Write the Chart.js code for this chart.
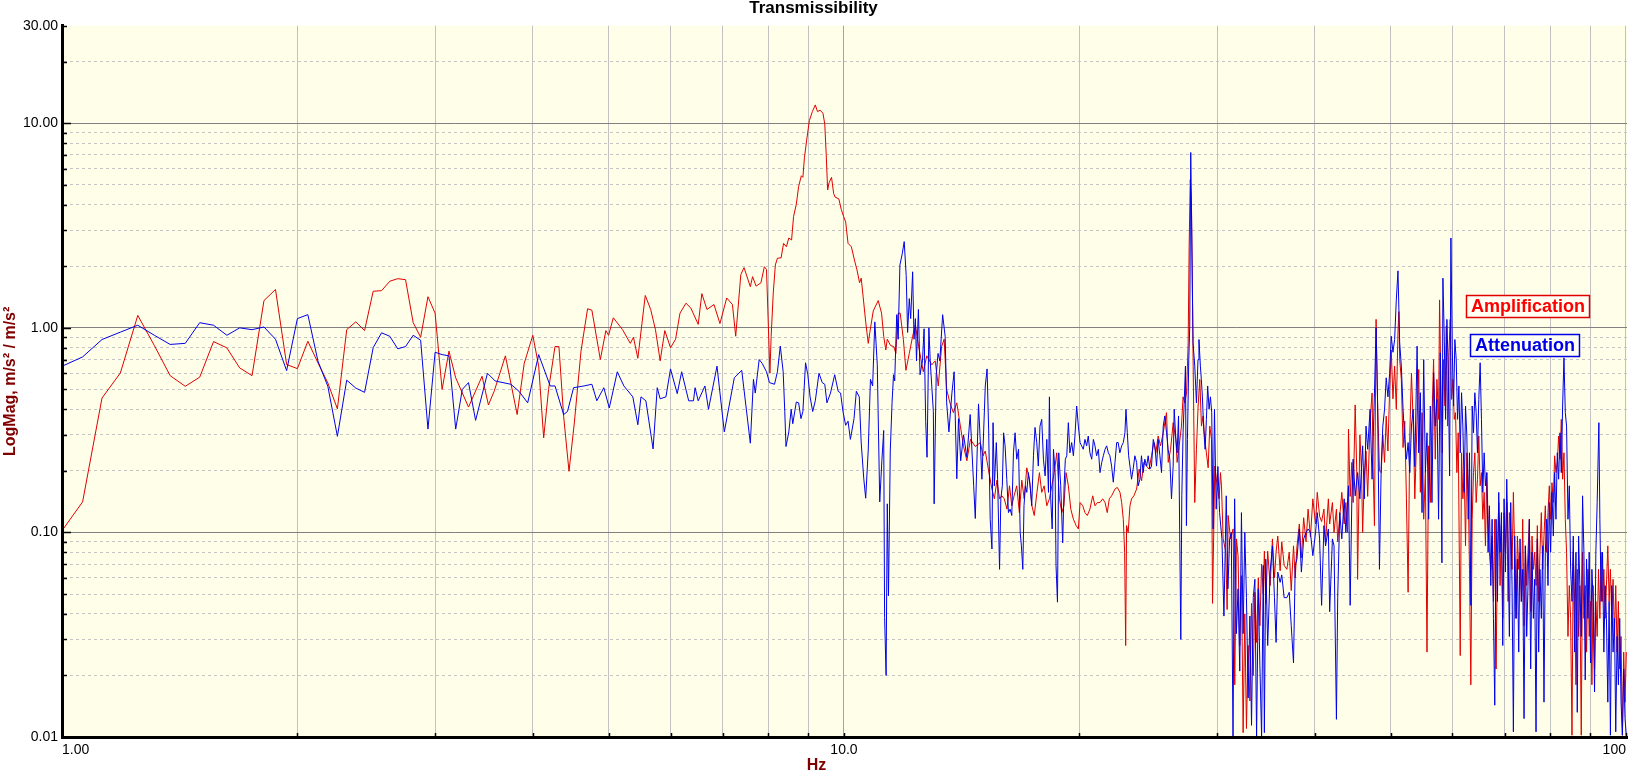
<!DOCTYPE html>
<html>
<head>
 <title>Transmissibility</title>
 <script src="https://cdn.jsdelivr.net/npm/chart.js"></script>
 <style>
  html, body { margin: 0; padding: 0; background: #fff; }
  #chart-container { width: 1633px; height: 776px; position: relative; }
 </style>
</head>
<body>
 <div id="chart-container">
  <canvas id="tChart"></canvas>
 </div>

 <script>
  // FFT bins below 3.2 Hz (0.0625 Hz resolution), shared by both curves
  const lowHz = [1, 1.0625, 1.125, 1.1875, 1.25, 1.3125, 1.375, 1.4375, 1.5, 1.5625,
   1.625, 1.6875, 1.75, 1.8125, 1.875, 1.9375, 2, 2.0625, 2.125, 2.1875,
   2.25, 2.3125, 2.375, 2.4375, 2.5, 2.5625, 2.625, 2.6875, 2.75, 2.8125,
   2.875, 2.9375, 3, 3.0625, 3.125, 3.1875];
  const ampLowMag = [0.102, 0.141, 0.454, 0.602, 1.15, 0.82, 0.584, 0.518, 0.574, 0.857,
   0.798, 0.637, 0.584, 1.36, 1.54, 0.662, 0.632, 0.86, 0.674, 0.538,
   0.402, 0.98, 1.07, 0.97, 1.51, 1.52, 1.69, 1.74, 1.72, 1.06,
   0.90, 1.42, 1.18, 0.50, 0.77, 0.57];
  const attLowMag = [0.649, 0.721, 0.877, 0.953, 1.03, 0.92, 0.83, 0.84, 1.06, 1.03,
   0.92, 1.0, 0.98, 1.01, 0.88, 0.618, 1.11, 1.16, 0.687, 0.518,
   0.295, 0.555, 0.508, 0.484, 0.80, 0.946, 0.91, 0.79, 0.81, 0.92,
   0.87, 0.32, 0.76, 0.74, 0.73, 0.32];

  // Amplification (red) above 3.2 Hz
  const ampHz = [
   3.31, 3.445, 3.51, 3.57, 3.69, 3.82, 3.90, 4.0, 4.07, 4.13, 4.19, 4.27, 4.32, 4.38, 4.45, 4.52, 4.61, 4.70, 4.76, 4.88,
   4.96, 5.0, 5.07, 5.21, 5.33, 5.38, 5.45, 5.57, 5.66, 5.74, 5.82, 5.90, 6.0, 6.09, 6.17, 6.28, 6.37, 6.51, 6.58, 6.68,
   6.82, 6.94, 7.08, 7.20, 7.27, 7.38, 7.45, 7.59, 7.64, 7.72, 7.83, 7.91, 7.96, 8.04, 8.07, 8.12, 8.17, 8.22, 8.31, 8.37,
   8.44, 8.50, 8.57, 8.62, 8.69, 8.75, 8.82, 8.86, 8.90, 8.96, 9.03, 9.11, 9.19, 9.25, 9.32, 9.40, 9.45, 9.49, 9.53, 9.57,
   9.64, 9.70, 9.74, 9.85, 9.92, 9.99, 10.05, 10.12, 10.22, 10.32, 10.39, 10.47, 10.52, 10.58, 10.66, 10.74, 10.79, 10.90, 11.06, 11.17,
   11.24, 11.31, 11.36, 11.47, 11.58, 11.65, 11.73, 11.80, 11.91, 12.0, 12.12, 12.24, 12.34, 12.46, 12.63, 12.76, 12.95, 13.08, 13.20, 13.33,
   13.43, 13.53, 13.66, 13.80, 13.94, 14.08, 14.22, 14.36, 14.51, 14.72, 14.94, 15.06, 15.16, 15.31, 15.46, 15.57, 15.69, 15.81, 15.92, 16.03,
   16.16, 16.28, 16.39, 16.50, 16.63, 16.76, 16.88, 17.00, 17.13, 17.27, 17.39, 17.51, 17.65, 17.78, 17.90, 18.03, 18.17, 18.31, 18.44, 18.57,
   18.71, 18.86, 18.99, 19.11, 19.23, 19.36, 19.50, 19.65, 19.81, 19.94, 20.04, 20.20, 20.33, 20.47, 20.63, 20.80, 20.94, 21.09, 21.25, 21.42,
   21.57, 21.71, 21.84, 21.99, 22.21, 22.36, 22.54, 22.65, 22.76, 22.85, 22.92, 22.98, 23.09, 23.21, 23.32, 23.48, 23.67, 23.85, 24.02, 24.18,
   24.37, 24.56, 24.73, 24.90, 25.05, 25.22, 25.40, 25.60, 25.72, 25.85, 25.98, 26.16, 26.36, 26.57, 26.67, 26.83, 27.01, 27.14, 27.28, 27.42,
   27.55, 27.63, 27.72, 27.82, 27.96, 28.09, 28.23, 28.37, 28.51, 28.65, 28.79, 28.93, 29.07, 29.22, 29.36, 29.51, 29.60, 29.80, 30.0, 30.18,
   30.30, 30.39, 30.54, 30.78, 30.90, 30.99, 31.21, 31.45, 31.60, 31.76, 31.91, 32.07, 32.23, 32.39, 32.55, 32.71, 32.87, 33.04, 33.20, 33.37,
   33.53, 33.70, 33.87, 34.03, 34.20, 34.37, 34.48, 34.62, 34.82, 35.07, 35.31, 35.52, 35.69, 35.87, 36.12, 36.29, 36.55, 36.84, 37.10, 37.32,
   37.57, 37.76, 37.95, 38.22, 38.45, 38.71, 38.98, 39.22, 39.49, 39.77, 40.09, 40.29, 40.57, 40.81, 41.09, 41.29, 41.63, 41.79, 42.13, 42.33,
   42.63, 42.79, 43.05, 43.31, 43.61, 43.83, 44.05, 44.17, 44.39, 44.61, 44.78, 45.05, 45.26, 45.37, 45.68, 45.90, 46.05, 46.28, 46.51, 46.74,
   47.07, 47.35, 47.50, 47.68, 47.91, 48.11, 48.39, 48.64, 48.87, 49.12, 49.36, 49.61, 49.86, 50.10, 50.35, 50.60, 50.85, 51.10, 51.23, 51.36,
   51.61, 51.87, 52.13, 52.39, 52.65, 52.91, 53.17, 53.44, 53.70, 54.06, 54.32, 54.58, 54.85, 55.12, 55.39, 55.66, 55.93, 56.21, 56.48, 56.75,
   57.03, 57.31, 57.59, 57.76, 57.99, 58.22, 58.45, 58.68, 58.91, 59.14, 59.37, 59.60, 59.84, 60.07, 60.31, 60.54, 60.78, 61.02, 61.38, 61.62,
   61.86, 62.11, 62.35, 62.59, 62.84, 63.08, 63.33, 63.58, 63.83, 64.08, 64.33, 64.58, 64.83, 65.09, 65.34, 65.60, 65.86, 66.11, 66.37, 66.63,
   66.89, 67.16, 67.42, 67.69, 67.95, 68.22, 68.49, 68.75, 69.02, 69.30, 69.57, 69.84, 70.12, 70.39, 70.67, 70.94, 71.22, 71.50, 71.78, 72.06,
   72.35, 72.63, 72.92, 73.20, 73.49, 73.78, 74.07, 74.36, 74.65, 74.94, 75.24, 75.53, 75.83, 76.13, 76.43, 76.73, 77.03, 77.33, 77.62, 77.94,
   78.25, 78.55, 78.86, 79.17, 79.48, 79.79, 80.10, 80.42, 80.74, 81.05, 81.37, 81.69, 82.01, 82.34, 82.66, 82.98, 83.31, 83.64, 83.95, 84.30,
   84.63, 84.96, 85.30, 85.63, 85.97, 86.30, 86.64, 86.98, 87.30, 87.66, 88.00, 88.35, 88.69, 89.04, 89.39, 89.74, 90.09, 90.45, 90.78, 91.16,
   91.51, 91.87, 92.23, 92.60, 92.96, 93.33, 93.69, 94.06, 94.41, 94.79, 95.16, 95.52, 95.90, 96.27, 96.66, 97.03, 97.42, 97.79, 98.17, 98.56,
   98.95, 99.33, 99.72, 100.1];
  const ampMag = [
   0.41, 0.58, 0.42, 0.49, 0.73, 0.377, 0.67, 0.92, 0.65, 0.29, 0.50, 0.81, 0.81, 0.37, 0.199, 0.343, 0.77, 1.24, 1.22, 0.70,
   0.97, 0.92, 1.12, 0.98, 0.84, 0.90, 0.71, 1.44, 1.23, 0.98, 0.69, 0.97, 0.80, 0.88, 1.18, 1.32, 1.25, 1.04, 1.47, 1.23,
   1.30, 1.05, 1.40, 1.30, 0.91, 1.82, 1.97, 1.59, 1.78, 1.60, 1.66, 1.99, 1.93, 0.60, 0.91, 1.48, 2.03, 2.19, 2.20, 2.59,
   2.49, 2.75, 2.69, 3.50, 4.02, 4.92, 5.54, 5.44, 6.78, 8.28, 10.3, 11.4, 12.3, 11.4, 11.6, 11.2, 9.9, 7.05, 4.72, 5.12,
   5.44, 4.54, 4.36, 4.27, 3.79, 3.50, 3.29, 2.59, 2.49, 2.12, 1.92, 1.66, 1.75, 1.42, 1.07, 0.84, 0.95, 1.21, 1.36, 1.18,
   0.91, 0.78, 0.88, 0.82, 0.81, 0.75, 1.18, 1.18, 0.88, 0.62, 0.75, 0.91, 1.03, 0.81, 0.61, 0.73, 0.66, 0.69, 0.52, 0.81,
   0.88, 0.50, 0.43, 0.385, 0.43, 0.335, 0.263, 0.224, 0.285, 0.263, 0.275, 0.237, 0.25, 0.20, 0.163, 0.146, 0.18, 0.146, 0.151, 0.146,
   0.13, 0.169, 0.135, 0.151, 0.169, 0.125, 0.18, 0.146, 0.207, 0.18, 0.135, 0.121, 0.157, 0.196, 0.157, 0.169, 0.135, 0.146, 0.169, 0.196,
   0.245, 0.146, 0.125, 0.135, 0.196, 0.169, 0.13, 0.116, 0.108, 0.104, 0.14, 0.135, 0.125, 0.121, 0.13, 0.151, 0.135, 0.14, 0.14, 0.146,
   0.14, 0.125, 0.146, 0.151, 0.163, 0.166, 0.157, 0.14, 0.116, 0.08, 0.028, 0.108, 0.10, 0.135, 0.146, 0.151, 0.163, 0.204, 0.179, 0.22,
   0.211, 0.204, 0.237, 0.275, 0.245, 0.296, 0.265, 0.307, 0.344, 0.385, 0.22, 0.255, 0.344, 0.285, 0.22, 0.265, 0.331, 0.46, 0.43, 0.48,
   0.845, 2.5, 5.3, 4.0, 0.65, 0.14, 0.255, 0.415, 0.56, 0.331, 0.371, 0.285, 0.245, 0.207, 0.331, 0.285, 0.045, 0.211, 0.169, 0.146,
   0.196, 0.169, 0.093, 0.08, 0.042, 0.121, 0.093, 0.104, 0.018, 0.093, 0.077, 0.028, 0.0615, 0.0105, 0.04, 0.011, 0.028, 0.015, 0.045, 0.02,
   0.051, 0.029, 0.06, 0.035, 0.07, 0.05, 0.081, 0.045, 0.081, 0.055, 0.093, 0.06, 0.08, 0.096, 0.065, 0.09, 0.069, 0.066, 0.08, 0.052,
   0.086, 0.06, 0.085, 0.11, 0.075, 0.118, 0.09, 0.13, 0.095, 0.146, 0.11, 0.157, 0.12, 0.113, 0.13, 0.09, 0.146, 0.11, 0.14, 0.10,
   0.13, 0.09, 0.12, 0.157, 0.11, 0.14, 0.10, 0.32, 0.15, 0.22, 0.14, 0.42, 0.20, 0.059, 0.30, 0.20, 0.10, 0.189, 0.25, 0.15,
   0.35, 0.48, 0.20, 0.108, 1.1, 0.45, 0.20, 0.196, 0.30, 0.22, 0.37, 0.25, 0.50, 0.78, 0.45, 0.65, 0.40, 0.95, 1.2, 0.70,
   0.56, 0.26, 0.35, 0.146, 0.051, 0.30, 0.60, 0.35, 0.146, 0.357, 0.626, 0.157, 0.385, 0.116, 0.196, 0.026, 0.265, 0.14, 0.357, 0.70,
   0.228, 0.56, 0.357, 1.37, 0.52, 0.245, 0.70, 0.415, 1.02, 0.331, 0.755, 1.10, 0.447, 0.56, 0.357, 0.385, 0.196, 0.307, 0.025, 0.245,
   0.146, 0.196, 0.086, 0.245, 0.169, 0.066, 0.018, 0.116, 0.196, 0.245, 0.14, 0.182, 0.296, 0.169, 0.196, 0.116, 0.157, 0.086, 0.196, 0.116,
   0.080, 0.066, 0.096, 0.046, 0.116, 0.0215, 0.080, 0.14, 0.055, 0.108, 0.038, 0.125, 0.080, 0.14, 0.046, 0.125, 0.096, 0.066, 0.157, 0.080,
   0.038, 0.096, 0.066, 0.080, 0.046, 0.116, 0.035, 0.086, 0.055, 0.080, 0.116, 0.041, 0.096, 0.066, 0.080, 0.055, 0.108, 0.046, 0.080, 0.125,
   0.066, 0.096, 0.135, 0.080, 0.125, 0.169, 0.116, 0.175, 0.14, 0.237, 0.196, 0.22, 0.296, 0.228, 0.357, 0.182, 0.245, 0.116, 0.080, 0.031,
   0.055, 0.038, 0.0102, 0.080, 0.046, 0.018, 0.066, 0.031, 0.055, 0.0102, 0.080, 0.038, 0.055, 0.026, 0.066, 0.031, 0.046, 0.018, 0.055, 0.0215,
   0.046, 0.031, 0.066, 0.038, 0.080, 0.046, 0.066, 0.038, 0.055, 0.086, 0.046, 0.066, 0.038, 0.059, 0.031, 0.055, 0.026, 0.046, 0.0215, 0.031,
   0.0102, 0.026, 0.0148, 0.026];

  // Attenuation (blue) above 3.2 Hz
  const attHz = [
   3.25, 3.31, 3.38, 3.50, 3.58, 3.75, 3.84, 3.94, 4.07, 4.21, 4.27, 4.38, 4.43, 4.51, 4.65, 4.76, 4.83, 4.93, 5.01, 5.13,
   5.23, 5.37, 5.45, 5.50, 5.58, 5.70, 5.77, 5.82, 5.92, 6.0, 6.12, 6.20, 6.33, 6.42, 6.45, 6.51, 6.64, 6.71, 6.88, 7.03,
   7.24, 7.40, 7.59, 7.66, 7.70, 7.79, 7.86, 7.96, 8.03, 8.15, 8.22, 8.29, 8.36, 8.40, 8.43, 8.50, 8.56, 8.60, 8.69, 8.75,
   8.81, 8.86, 8.93, 8.99, 9.05, 9.12, 9.19, 9.29, 9.38, 9.45, 9.51, 9.61, 9.73, 9.83, 9.90, 9.97, 10.05, 10.12, 10.19, 10.30,
   10.37, 10.46, 10.52, 10.60, 10.66, 10.74, 10.81, 10.88, 10.95, 11.03, 11.11, 11.18, 11.24, 11.27, 11.32, 11.36, 11.40, 11.46, 11.52, 11.57,
   11.61, 11.68, 11.73, 11.79, 11.87, 11.94, 12.01, 12.06, 12.12, 12.17, 12.24, 12.29, 12.34, 12.38, 12.45, 12.51, 12.60, 12.66, 12.72, 12.77,
   12.84, 12.89, 13.01, 13.04, 13.12, 13.19, 13.26, 13.37, 13.47, 13.53, 13.62, 13.74, 13.83, 13.94, 14.01, 14.10, 14.22, 14.36, 14.50, 14.65,
   14.72, 14.86, 14.94, 15.01, 15.09, 15.16, 15.24, 15.31, 15.38, 15.46, 15.51, 15.57, 15.66, 15.72, 15.81, 15.87, 15.94, 16.0, 16.07, 16.15,
   16.23, 16.31, 16.39, 16.47, 16.55, 16.63, 16.72, 16.80, 16.86, 16.93, 16.99, 17.06, 17.13, 17.21, 17.30, 17.38, 17.47, 17.55, 17.64, 17.72,
   17.81, 17.90, 17.99, 18.08, 18.17, 18.26, 18.31, 18.38, 18.46, 18.53, 18.62, 18.67, 18.75, 18.82, 18.93, 19.04, 19.12, 19.19, 19.27, 19.36,
   19.45, 19.55, 19.65, 19.74, 19.84, 19.94, 20.04, 20.13, 20.23, 20.33, 20.43, 20.53, 20.63, 20.74, 20.84, 20.94, 21.04, 21.15, 21.25, 21.36,
   21.46, 21.57, 21.67, 21.78, 21.88, 21.99, 22.10, 22.21, 22.32, 22.42, 22.53, 22.65, 22.76, 22.87, 22.94, 23.03, 23.12, 23.21, 23.32, 23.43,
   23.55, 23.67, 23.78, 23.90, 24.01, 24.13, 24.25, 24.38, 24.49, 24.61, 24.73, 24.86, 24.98, 25.10, 25.22, 25.35, 25.47, 25.60, 25.72, 25.85,
   25.97, 26.10, 26.23, 26.36, 26.44, 26.57, 26.67, 26.78, 26.88, 26.96, 27.04, 27.14, 27.22, 27.33, 27.41, 27.49, 27.60, 27.68, 27.76, 27.84,
   27.95, 28.09, 28.23, 28.36, 28.44, 28.56, 28.64, 28.73, 28.84, 28.96, 29.07, 29.18, 29.30, 29.42, 29.53, 29.65, 29.77, 29.92, 30.07, 30.22,
   30.43, 30.61, 30.82, 30.97, 31.13, 31.28, 31.44, 31.59, 31.75, 31.91, 32.07, 32.23, 32.39, 32.55, 32.71, 32.87, 33.04, 33.20, 33.37, 33.53,
   33.70, 33.87, 34.03, 34.20, 34.37, 34.48, 34.62, 34.82, 35.07, 35.31, 35.52, 35.69, 35.87, 36.12, 36.29, 36.55, 36.84, 37.10, 37.32, 37.57,
   37.76, 37.95, 38.22, 38.45, 38.71, 38.98, 39.22, 39.49, 39.77, 40.09, 40.29, 40.57, 40.81, 41.09, 41.29, 41.63, 41.79, 42.13, 42.33, 42.63,
   42.79, 43.05, 43.31, 43.61, 43.83, 44.17, 44.39, 44.61, 44.78, 45.05, 45.37, 45.68, 46.05, 46.28, 46.51, 46.74, 47.07, 47.35, 47.68, 47.91,
   48.11, 48.39, 48.64, 48.87, 49.12, 49.36, 49.61, 49.86, 50.10, 50.35, 50.60, 50.85, 51.10, 51.36, 51.61, 51.87, 52.13, 52.39, 52.65, 52.91,
   53.17, 53.44, 53.70, 54.06, 54.32, 54.58, 54.85, 55.12, 55.39, 55.66, 55.93, 56.21, 56.48, 56.75, 57.03, 57.31, 57.59, 57.88, 58.16, 58.33,
   58.56, 58.79, 59.02, 59.25, 59.49, 59.72, 59.95, 60.19, 60.42, 60.66, 60.90, 61.14, 61.38, 61.62, 61.86, 62.11, 62.35, 62.59, 62.84, 63.08,
   63.33, 63.58, 63.83, 64.08, 64.33, 64.58, 64.83, 65.09, 65.34, 65.60, 65.86, 66.11, 66.37, 66.63, 66.89, 67.16, 67.42, 67.69, 67.95, 68.22,
   68.49, 68.75, 69.02, 69.30, 69.57, 69.84, 70.12, 70.39, 70.67, 70.94, 71.22, 71.50, 71.78, 72.06, 72.35, 72.63, 72.92, 73.20, 73.49, 73.78,
   74.07, 74.36, 74.65, 74.94, 75.24, 75.53, 75.83, 76.13, 76.43, 76.73, 77.03, 77.33, 77.62, 77.94, 78.25, 78.55, 78.86, 79.17, 79.48, 79.79,
   80.10, 80.42, 80.74, 81.05, 81.37, 81.69, 82.01, 82.34, 82.66, 82.98, 83.31, 83.64, 83.95, 84.30, 84.63, 84.96, 85.30, 85.63, 85.97, 86.30,
   86.64, 86.98, 87.30, 87.66, 88.00, 88.35, 88.69, 89.04, 89.39, 89.74, 90.09, 90.45, 90.78, 91.16, 91.51, 91.87, 92.33, 92.60, 92.96, 93.33,
   93.69, 94.06, 94.41, 94.79, 95.16, 95.52, 95.90, 96.27, 96.66, 97.03, 97.42, 97.79, 98.17, 98.56, 98.95, 99.33, 99.72, 100.1];
  const attMag = [
   0.50, 0.54, 0.353, 0.60, 0.55, 0.53, 0.49, 0.43, 0.74, 0.52, 0.52, 0.377, 0.39, 0.51, 0.52, 0.53, 0.44, 0.51, 0.406, 0.61,
   0.52, 0.46, 0.336, 0.46, 0.44, 0.256, 0.51, 0.45, 0.46, 0.63, 0.477, 0.61, 0.44, 0.44, 0.51, 0.44, 0.52, 0.40, 0.65, 0.31,
   0.57, 0.62, 0.273, 0.56, 0.48, 0.70, 0.67, 0.61, 0.54, 0.53, 0.61, 0.815, 0.61, 0.39, 0.263, 0.31, 0.40, 0.34, 0.434, 0.43,
   0.36, 0.39, 0.675, 0.59, 0.46, 0.39, 0.44, 0.60, 0.54, 0.53, 0.43, 0.48, 0.59, 0.49, 0.48, 0.39, 0.334, 0.35, 0.285, 0.36,
   0.49, 0.46, 0.274, 0.183, 0.147, 0.253, 0.56, 0.52, 1.07, 0.66, 0.141, 0.224, 0.315, 0.0384, 0.020, 0.138, 0.049, 0.25, 0.43, 0.59,
   0.55, 1.16, 0.88, 2.03, 2.30, 2.64, 1.80, 0.95, 1.39, 1.11, 1.88, 0.88, 1.11, 0.69, 1.23, 0.59, 0.69, 0.99, 0.348, 0.233,
   1.0, 0.69, 0.39, 0.138, 0.59, 0.75, 0.69, 1.16, 0.91, 0.43, 0.31, 0.48, 0.61, 0.183, 0.36, 0.224, 0.30, 0.233, 0.377, 0.169,
   0.117, 0.425, 0.275, 0.182, 0.32, 0.52, 0.63, 0.32, 0.116, 0.083, 0.344, 0.169, 0.275, 0.182, 0.066, 0.146, 0.169, 0.307, 0.265, 0.182,
   0.125, 0.13, 0.121, 0.245, 0.307, 0.228, 0.255, 0.10, 0.086, 0.066, 0.135, 0.169, 0.157, 0.196, 0.169, 0.135, 0.237, 0.326, 0.275, 0.211,
   0.331, 0.357, 0.228, 0.189, 0.285, 0.157, 0.46, 0.146, 0.104, 0.255, 0.196, 0.069, 0.0456, 0.245, 0.169, 0.089, 0.169, 0.228, 0.237, 0.344,
   0.245, 0.275, 0.237, 0.296, 0.415, 0.331, 0.275, 0.265, 0.255, 0.285, 0.265, 0.296, 0.245, 0.228, 0.285, 0.265, 0.237, 0.255, 0.196, 0.22,
   0.237, 0.255, 0.265, 0.245, 0.237, 0.211, 0.176, 0.22, 0.275, 0.275, 0.245, 0.265, 0.275, 0.307, 0.40, 0.307, 0.237, 0.211, 0.182, 0.204,
   0.237, 0.22, 0.169, 0.182, 0.237, 0.196, 0.228, 0.211, 0.237, 0.204, 0.211, 0.285, 0.265, 0.211, 0.285, 0.237, 0.196, 0.331, 0.371, 0.307,
   0.255, 0.228, 0.146, 0.211, 0.40, 0.285, 0.245, 0.371, 0.089, 0.03, 0.151, 0.307, 0.415, 0.65, 0.108, 0.285, 0.70, 1.02, 7.2, 3.0,
   0.845, 0.65, 0.43, 0.70, 0.877, 0.65, 0.56, 0.46, 0.32, 0.255, 0.357, 0.52, 0.40, 0.46, 0.385, 0.104, 0.40, 0.13, 0.21, 0.125,
   0.093, 0.039, 0.151, 0.053, 0.093, 0.10, 0.0101, 0.146, 0.032, 0.053, 0.021, 0.125, 0.032, 0.10, 0.048, 0.0155, 0.039, 0.0114, 0.048, 0.059,
   0.01, 0.053, 0.0223, 0.01, 0.069, 0.0105, 0.074, 0.028, 0.064, 0.086, 0.048, 0.029, 0.064, 0.057, 0.062, 0.048, 0.048, 0.051, 0.035, 0.023,
   0.069, 0.074, 0.104, 0.064, 0.093, 0.10, 0.104, 0.10, 0.077, 0.10, 0.125, 0.093, 0.044, 0.108, 0.086, 0.104, 0.041, 0.093, 0.086, 0.0122,
   0.048, 0.125, 0.093, 0.146, 0.10, 0.169, 0.044, 0.146, 0.228, 0.151, 0.196, 0.146, 0.265, 0.146, 0.331, 0.255, 0.40, 0.182, 0.48, 1.0,
   0.46, 0.066, 0.21, 0.331, 0.40, 0.57, 0.46, 0.60, 0.91, 0.76, 0.877, 1.37, 1.9, 0.845, 0.65, 0.40, 0.285, 0.228, 0.275, 0.196,
   0.331, 0.40, 0.21, 0.814, 0.245, 0.482, 0.125, 0.70, 0.196, 0.307, 0.116, 0.415, 0.14, 0.603, 0.331, 0.447, 0.116, 0.755, 0.071, 1.75,
   0.91, 0.357, 1.10, 0.626, 0.189, 2.75, 0.814, 0.415, 0.877, 0.70, 0.357, 0.52, 0.245, 0.482, 0.331, 0.157, 0.415, 0.296, 0.116, 0.245,
   0.044, 0.415, 0.307, 0.482, 0.385, 0.245, 0.447, 0.675, 0.357, 0.157, 0.245, 0.169, 0.196, 0.080, 0.135, 0.055, 0.116, 0.038, 0.0143, 0.116,
   0.046, 0.157, 0.080, 0.125, 0.028, 0.146, 0.064, 0.182, 0.086, 0.031, 0.14, 0.055, 0.0106, 0.096, 0.038, 0.074, 0.026, 0.093, 0.046, 0.066,
   0.0123, 0.086, 0.031, 0.055, 0.116, 0.0215, 0.080, 0.038, 0.059, 0.0106, 0.093, 0.026, 0.066, 0.038, 0.086, 0.0148, 0.080, 0.116, 0.055, 0.14,
   0.080, 0.157, 0.096, 0.196, 0.116, 0.245, 0.182, 0.307, 0.196, 0.415, 0.714, 0.385, 0.331, 0.116, 0.169, 0.066, 0.046, 0.096, 0.026, 0.080,
   0.0132, 0.096, 0.055, 0.031, 0.151, 0.080, 0.019, 0.074, 0.038, 0.080, 0.023, 0.066, 0.046, 0.0166, 0.080, 0.14, 0.344, 0.116, 0.046, 0.080,
   0.026, 0.055, 0.038, 0.0148, 0.046, 0.0102, 0.055, 0.026, 0.038, 0.0106, 0.031, 0.018, 0.038, 0.0148, 0.0102, 0.0215, 0.0123, 0.0102];

  // axis ticks and the labelled ones
  const xTickValues = [1, 2, 3, 4, 5, 6, 7, 8, 9, 10, 20, 30, 40, 50, 60, 70, 80, 90, 100];
  const xLabelValues = [1, 10, 100];
  const xLabelText = ['1.00', '10.0', '100'];
  const yTickValues = [0.01, 0.02, 0.03, 0.04, 0.05, 0.06, 0.07, 0.08, 0.09,
   0.1, 0.2, 0.3, 0.4, 0.5, 0.6, 0.7, 0.8, 0.9,
   1, 2, 3, 4, 5, 6, 7, 8, 9, 10, 20, 30];
  const yLabelValues = [0.01, 0.1, 1, 10, 30];
  const yMajorValues = [0.01, 0.1, 1, 10];

  const fontFamily = '"Liberation Sans", Arial, Helvetica, sans-serif';
  const darkRed = '#800000';
  const isMajorY = v => yMajorValues.some(m => Math.abs(v - m) < m * 1e-6);

  const toPoints = (hz, mag) => hz.map((f, i) => ({ x: f, y: mag[i] }));
  const ampData = toPoints(lowHz, ampLowMag).concat(toPoints(ampHz, ampMag));
  const attData = toPoints(lowHz, attLowMag).concat(toPoints(attHz, attMag));

  // pale yellow plot area
  const plotBackground = {
   id: 'plotBackground',
   beforeDraw(chart) {
    const { ctx, chartArea: a } = chart;
    ctx.save();
    ctx.fillStyle = '#ffffe9';
    ctx.fillRect(a.left, a.top, a.right - a.left, a.bottom - a.top);
    ctx.restore();
   }
  };

  // short tick marks pointing into the plot
  const innerTicks = {
   id: 'innerTicks',
   afterDatasetsDraw(chart) {
    const { ctx, chartArea: a, scales: { x, y } } = chart;
    ctx.save();
    ctx.strokeStyle = '#000';
    ctx.lineWidth = 1.5;
    ctx.beginPath();
    yTickValues.forEach(v => {
     const p = Math.round(y.getPixelForValue(v)) + 0.5;
     ctx.moveTo(a.left, p);
     ctx.lineTo(a.left + (isMajorY(v) ? 9 : 5), p);
    });
    xTickValues.forEach(v => {
     const p = Math.round(x.getPixelForValue(v)) + 0.5;
     ctx.moveTo(p, a.bottom);
     ctx.lineTo(p, a.bottom - 4);
    });
    ctx.stroke();
    ctx.restore();
   }
  };

  // boxed series names at the right, plus the centred "Hz" title
  const boxedLabels = {
   id: 'boxedLabels',
   afterDraw(chart) {
    const { ctx, chartArea: a } = chart;
    const spots = [[a.right - 161, 295], [a.right - 157, 334]];
    ctx.save();
    ctx.font = 'bold 18px ' + fontFamily;
    ctx.textBaseline = 'middle';
    chart.data.datasets.forEach((ds, i) => {
     const [bx, by] = spots[i];
     const w = ctx.measureText(ds.label).width + 9;
     ctx.fillStyle = '#fffff4';
     ctx.fillRect(bx, by, w, 22);
     ctx.strokeStyle = ds.borderColor;
     ctx.lineWidth = 1.5;
     ctx.strokeRect(bx + 0.5, by + 0.5, w, 22);
     ctx.fillStyle = ds.textColor;
     ctx.fillText(ds.label, bx + 5, by + 12);
    });
    ctx.font = 'bold 16px ' + fontFamily;
    ctx.fillStyle = darkRed;
    ctx.textAlign = 'center';
    ctx.fillText('Hz', chart.width / 2, 766);
    ctx.restore();
   }
  };

  const ctx = document.getElementById('tChart').getContext('2d');
  const chart = new Chart(ctx, {
   type: 'line',
   data: {
    datasets: [{
     label: 'Amplification',
     data: ampData,
     borderColor: '#e00000',
     textColor: '#ff0000',
     order: 1
    }, {
     label: 'Attenuation',
     data: attData,
     borderColor: '#0000e8',
     textColor: '#0000e8',
     order: 0
    }]
   },
   options: {
    responsive: true,
    maintainAspectRatio: false,
    animation: false,
    layout: { padding: { left: 0, right: 6, top: 0, bottom: 0 } },
    elements: {
     point: { radius: 0 },
     line: { borderWidth: 1, tension: 0, borderJoinStyle: 'round' }
    },
    plugins: {
     legend: { display: false },
     tooltip: { enabled: false },
     title: {
      display: true,
      text: 'Transmissibility',
      color: '#000',
      font: { family: fontFamily, size: 17, weight: 'bold', lineHeight: 1 },
      padding: { top: 0, bottom: 8.7 }
     }
    },
    scales: {
     x: {
      type: 'logarithmic',
      min: 1,
      max: 100.3,
      afterBuildTicks: s => { s.ticks = xTickValues.map(v => ({ value: v })); },
      afterFit: s => { s.height = 39; },
      ticks: {
       autoSkip: false, maxRotation: 0, minRotation: 0, align: 'inner', padding: 5,
       color: '#000', font: { family: fontFamily, size: 14 },
       callback: v => { const i = xLabelValues.indexOf(v); return i >= 0 ? xLabelText[i] : ''; }
      },
      grid: {
       drawTicks: false,
       color: c => (c.tick && c.tick.value === 10) ? '#a4a4a4' : '#c2c2c2'
      },
      border: { color: '#000', width: 3, z: 1 }
     },
     y: {
      type: 'logarithmic',
      min: 0.01,
      max: 30,
      afterBuildTicks: s => { s.ticks = yTickValues.map(v => ({ value: v })); },
      afterFit: s => { s.width = 62; },
      ticks: {
       autoSkip: false, padding: 4,
       color: '#000', font: { family: fontFamily, size: 14 },
       callback: v => yLabelValues.includes(v) ? v.toFixed(2) : ''
      },
      grid: {
       drawTicks: false,
       color: c => {
        if (!c.tick || c.tick.value >= 30) return 'rgba(0,0,0,0)';
        return isMajorY(c.tick.value) ? '#808080' : '#c4c4c4';
       }
      },
      border: {
       color: '#000', width: 3, z: 1,
       dash: c => (c.tick && !isMajorY(c.tick.value)) ? [3, 3] : []
      },
      title: {
       display: true,
       text: 'LogMag, m/s² / m/s²',
       color: darkRed,
       font: { family: fontFamily, size: 16, weight: 'bold' },
       padding: { top: 1, bottom: 0 }
      }
     }
    }
   },
   plugins: [plotBackground, innerTicks, boxedLabels]
  });
 </script>
</body>
</html>
